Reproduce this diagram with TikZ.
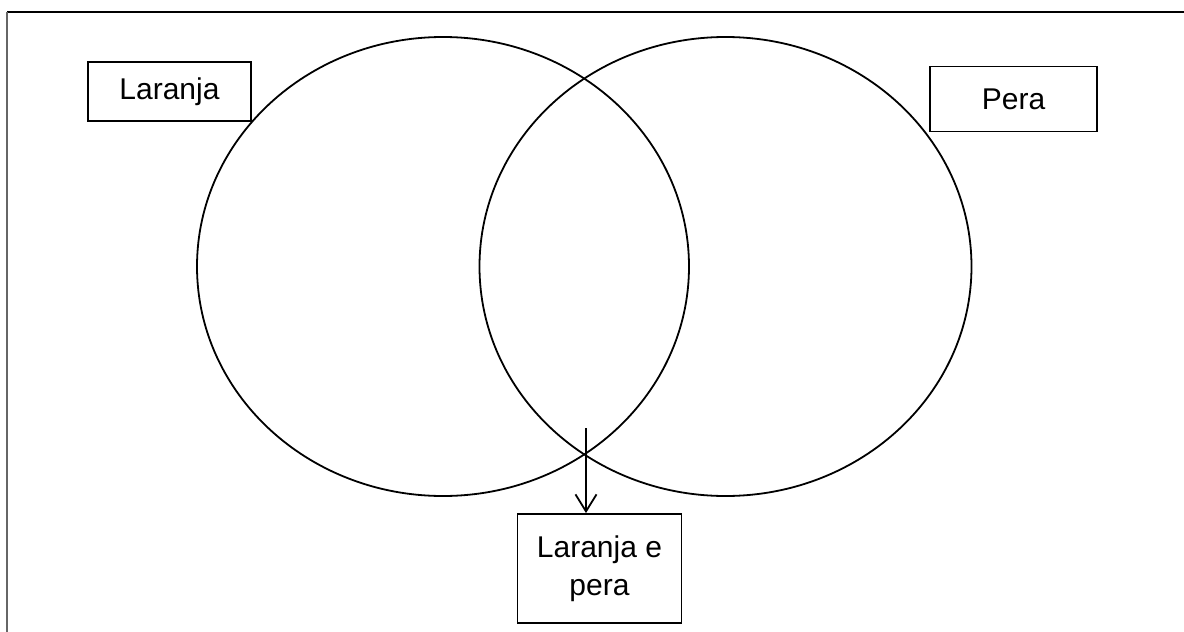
\documentclass[tikz,border=0pt]{standalone}
\usepackage{fontspec}
\setmainfont{Liberation Sans}
\usetikzlibrary{arrows.meta}
\begin{document}
\begin{tikzpicture}[x=1pt, y=-1pt,
  font=\fontsize{30}{38}\selectfont,
  box/.style={draw, line width=1.8pt, align=center, inner sep=0pt},
  conj/.style={draw, line width=1.8pt},
  arr/.style={-{Straight Barb[length=17pt, width=21pt, line width=1.8pt]}, line width=1.8pt}
]
  \useasboundingbox (0,0) rectangle (1184,632);
  % frame (top and left only)
  \draw[line width=1.5pt] (7,12) -- (1184,12);
  \draw[black!60, line width=2.5pt] (7,12) -- (7,632);
  % sets
  \draw[conj] (443,266.5) ellipse [x radius=246, y radius=229.5];
  \draw[conj] (725.5,266.5) ellipse [x radius=246, y radius=229.5];
  % labels
  \node[box, minimum width=163pt, minimum height=59pt] (laranja) at (169.5,91.5) {Laranja};
  \node[box, minimum width=167pt, minimum height=65pt] (pera) at (1013.5,99) {Pera};
  \node[box, minimum width=164pt, minimum height=109pt] (inter) at (599.5,568.5)
        {Laranja e\\pera};
  \coordinate (top) at (586,428);
  \draw[arr] (top) -- (top |- inter.north);
\end{tikzpicture}
\end{document}
